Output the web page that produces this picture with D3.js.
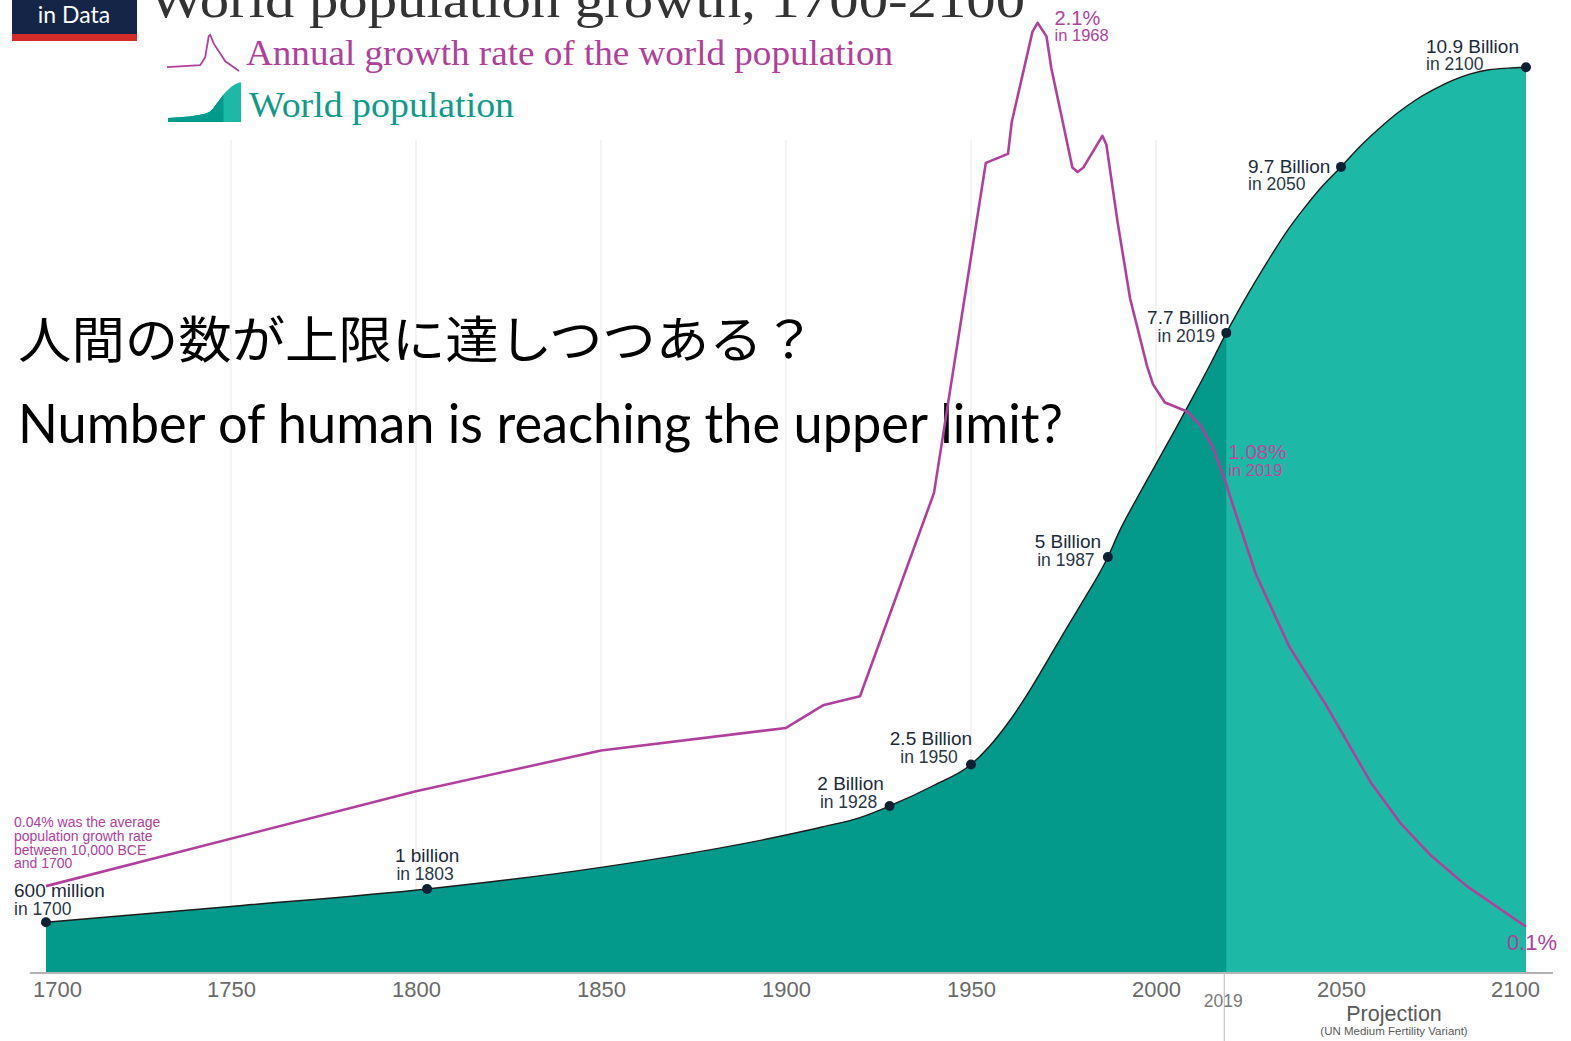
<!DOCTYPE html>
<html>
<head>
<meta charset="utf-8">
<script src="https://cdn.jsdelivr.net/npm/d3@7"></script>
<style>
  html, body { margin: 0; padding: 0; background: #fff; }
  svg { display: block; }
</style>
</head>
<body>
<svg id="chart" width="1571" height="1041"></svg>
<script>
// ---- World population (billions) ----
const popYears = [1700, 1750, 1803, 1850, 1900, 1910, 1920, 1928, 1940, 1950, 1955, 1960, 1965, 1970, 1975, 1980, 1987,
  1990, 1995, 2000, 2005, 2010, 2015, 2019, 2025, 2030, 2035, 2040, 2045, 2050, 2055, 2060, 2065, 2070, 2075, 2080,
  2085, 2090, 2095, 2100];
const popValues = [0.6, 0.79, 1.0, 1.26, 1.65, 1.75, 1.86, 2.0, 2.25, 2.5, 2.72, 3.0, 3.33, 3.7, 4.08, 4.45, 5.0,
  5.3, 5.72, 6.12, 6.52, 6.93, 7.35, 7.7, 8.18, 8.55, 8.9, 9.2, 9.47, 9.7, 9.94, 10.15, 10.34, 10.5, 10.63, 10.74,
  10.82, 10.87, 10.89, 10.9];

// ---- Annual growth rate of the world population (%) ----
const rateYears = [1700, 1800, 1850, 1900, 1910, 1920, 1940, 1954, 1960, 1961, 1966.6, 1968, 1970.4, 1971.7, 1977.4,
  1978.8, 1980.4, 1985.5, 1986.6, 1989.6, 1993, 1997.6, 1999.2, 2002.4, 2008.4, 2011.9, 2015.4, 2019, 2020.5, 2027,
  2036, 2046, 2058, 2066, 2074, 2084, 2100];
const rateValues = [0.19, 0.40, 0.49, 0.54, 0.59, 0.61, 1.06, 1.79, 1.81, 1.88, 2.08, 2.1, 2.07, 2.0, 1.78,
  1.77, 1.78, 1.85, 1.83, 1.66, 1.49, 1.34, 1.30, 1.26, 1.24, 1.21, 1.16, 1.08, 1.04, 0.88,
  0.72, 0.59, 0.42, 0.33, 0.26, 0.19, 0.1];

// ---- Milestones marked on the population curve ----
const milestoneYears = [1700, 1803, 1928, 1950, 1987, 2019, 2050, 2100];
const milestoneValues = [0.6, 1.0, 2.0, 2.5, 5.0, 7.7, 9.7, 10.9];
const milestoneLabels = ["600 million", "1 billion", "2 Billion", "2.5 Billion", "5 Billion", "7.7 Billion", "9.7 Billion", "10.9 Billion"];

// ---- Growth-rate callouts ----
const rateNoteYears = [1968, 2019, 2100];
const rateNoteValues = [2.1, 1.08, 0.1];

// ---- Axis ----
const tickYears = [1700, 1750, 1800, 1850, 1900, 1950, 2000, 2050, 2100];
const gridYears = [1750, 1800, 1850, 1900, 1950, 2000];
const projectionStart = 2019;

// ---- Texts ----
const titleText = "World population growth, 1700-2100";
const legendRate = "Annual growth rate of the world population";
const legendPop = "World population";
const headlineJa = "人間の数が上限に達しつつある？";
const headlineEn = "Number of human is reaching the upper limit?";
const ancientNote = ["0.04% was the average", "population growth rate", "between 10,000 BCE", "and 1700"];

// ---- Styling ----
const C = {
  darkTeal: "#039a8b", lightTeal: "#1eb9a6", magenta: "#b1409c", navy: "#0f2033",
  labelNavy: "#1b2b3c", grid: "#ececec", axis: "#9a9a9a", tick: "#6a6a6a"
};
const sans = "'Liberation Sans', Arial, Helvetica, sans-serif";
const serif = "'Liberation Serif', 'DejaVu Serif', Georgia, serif";

const svg = d3.select("#chart");

const x = d3.scaleLinear().domain([1700, 2100]).range([46, 1526]);
const yPop = d3.scaleLinear().domain([0, 11]).range([972, 972 - 11 * 83]);
const yRate = d3.scaleLinear().domain([0, 2.1]).range([972, 972 - 2.1 * 452]);

const pop = popYears.map((yr, i) => ({ year: yr, v: popValues[i] }));
const rate = rateYears.map((yr, i) => ({ year: yr, v: rateValues[i] }));

// vertical gridlines
svg.append("g").selectAll("line").data(gridYears).join("line")
  .attr("x1", d => x(d)).attr("x2", d => x(d))
  .attr("y1", 140).attr("y2", yPop(0))
  .attr("stroke", C.grid).attr("stroke-width", 1.2);

// population area: full span in the projection colour, history painted over it
const area = d3.area().x(d => x(d.year)).y0(yPop(0)).y1(d => yPop(d.v)).curve(d3.curveMonotoneX);
svg.append("path").datum(pop)
  .attr("d", area).attr("fill", C.lightTeal);
svg.append("path").datum(pop.filter(d => d.year <= projectionStart))
  .attr("d", area).attr("fill", C.darkTeal);

const popLine = d3.line().x(d => x(d.year)).y(d => yPop(d.v)).curve(d3.curveMonotoneX);
svg.append("path").datum(pop).attr("d", popLine)
  .attr("fill", "none").attr("stroke", "#1c1c1c").attr("stroke-width", 1.4);

// headline texts
svg.append("text").attr("x", 18).attr("y", 358)
  .attr("font-family", "'Noto Sans CJK JP', sans-serif").attr("font-size", 50)
  .attr("textLength", 798).attr("lengthAdjust", "spacingAndGlyphs")
  .attr("fill", "#000").text(headlineJa);
svg.append("text").attr("x", 18).attr("y", 443)
  .attr("font-family", "Lato, 'Open Sans', sans-serif").attr("font-size", 55)
  .attr("textLength", 1045).attr("lengthAdjust", "spacingAndGlyphs")
  .attr("fill", "#000").text(headlineEn);

// growth-rate line
const rateLine = d3.line().x(d => x(d.year)).y(d => yRate(d.v));
svg.append("path").datum(rate).attr("d", rateLine)
  .attr("fill", "none").attr("stroke", C.magenta).attr("stroke-width", 2.6)
  .attr("stroke-linejoin", "round");

// milestone dots and labels
const ms = milestoneYears.map((yr, i) => ({ year: yr, v: milestoneValues[i], label: milestoneLabels[i] }));
// label placement relative to each dot: [dx, dy of first line, dy of second line, anchor]
const msPlacement = [
  [-32, -25, -7, "start"], [0, -27, -9, "middle"], [-39, -16, 2, "middle"], [-40, -20, -2, "middle"],
  [-40, -9, 9, "middle"], [-38, -9, 9, "middle"], [-93, 6, 23, "start"], [-100, -14, 3, "start"]
];
const msG = svg.append("g");
ms.forEach((d, i) => {
  const [dx, dy1, dy2, anchor] = msPlacement[i];
  const cx = x(d.year), cy = yPop(d.v);
  msG.append("text").attr("x", cx + dx).attr("y", cy + dy1)
    .attr("text-anchor", anchor).attr("font-family", sans).attr("font-size", 19)
    .attr("fill", C.labelNavy).text(d.label);
  msG.append("text").attr("x", cx + dx + (anchor === "middle" ? -2 : 0)).attr("y", cy + dy2)
    .attr("text-anchor", anchor).attr("font-family", sans).attr("font-size", 17.5)
    .attr("fill", "#2a3846").text("in " + d.year);
});
msG.selectAll("circle").data(ms).join("circle")
  .attr("cx", d => x(d.year)).attr("cy", d => yPop(d.v)).attr("r", 5)
  .attr("fill", C.navy);

// growth-rate callouts
const rn = rateNoteYears.map((yr, i) => ({ year: yr, v: rateNoteValues[i] }));
const rnG = svg.append("g").attr("font-family", sans).attr("fill", C.magenta);
rnG.append("text").attr("x", x(rn[0].year) + 17).attr("y", yRate(rn[0].v) + 2)
  .attr("font-size", 20).text(rn[0].v + "%");
rnG.append("text").attr("x", x(rn[0].year) + 17).attr("y", yRate(rn[0].v) + 18)
  .attr("font-size", 16.5).text("in " + rn[0].year);
rnG.append("text").attr("x", x(rn[1].year) + 2).attr("y", yRate(rn[1].v) - 25)
  .attr("font-size", 20.5).attr("fill", "#c0479f").text(rn[1].v + "%");
rnG.append("text").attr("x", x(rn[1].year) + 2).attr("y", yRate(rn[1].v) - 8)
  .attr("font-size", 16.5).attr("fill", "#c0479f").text("in " + rn[1].year);
rnG.append("text").attr("x", x(rn[2].year) - 19).attr("y", yRate(rn[2].v) + 23)
  .attr("font-size", 22).text(rn[2].v + "%");
rnG.append("g").selectAll("text").data(ancientNote).join("text")
  .attr("x", 14).attr("y", (d, i) => 827 + i * 13.8)
  .attr("font-size", 14).text(d => d);

// x axis
svg.append("line").attr("x1", 30).attr("x2", 1553)
  .attr("y1", yPop(0) + 1).attr("y2", yPop(0) + 1)
  .attr("stroke", C.axis).attr("stroke-width", 1.5);
const axis = svg.append("g").attr("transform", `translate(0,${yPop(0)})`)
  .call(d3.axisBottom(x).tickValues(tickYears).tickFormat(d3.format("d")).tickSize(0).tickPadding(0));
axis.select(".domain").remove();
axis.selectAll("text")
  .attr("y", 25).attr("dy", 0)
  .attr("font-family", sans).attr("font-size", 22).attr("fill", C.tick)
  .attr("dx", d => d === 1700 ? 11 : d === 2100 ? -11 : 0);

// projection marker
svg.append("line").attr("x1", x(projectionStart) - 2).attr("x2", x(projectionStart) - 2)
  .attr("y1", yPop(0)).attr("y2", 1041).attr("stroke", "#c4c4c4").attr("stroke-width", 1.2);
svg.append("text").attr("x", x(projectionStart) - 3).attr("y", 1007)
  .attr("text-anchor", "middle").attr("font-family", sans).attr("font-size", 17.5)
  .attr("fill", "#7a7a7a").text(projectionStart);
svg.append("text").attr("x", 1394).attr("y", 1021)
  .attr("text-anchor", "middle").attr("font-family", sans).attr("font-size", 21.5)
  .attr("fill", "#5a5a5a").text("Projection");
svg.append("text").attr("x", 1394).attr("y", 1035)
  .attr("text-anchor", "middle").attr("font-family", sans).attr("font-size", 11.5)
  .attr("fill", "#5a5a5a").text("(UN Medium Fertility Variant)");

// header: logo, title, legend
svg.append("rect").attr("x", 12).attr("y", 0).attr("width", 125).attr("height", 34).attr("fill", "#142547");
svg.append("rect").attr("x", 12).attr("y", 34).attr("width", 125).attr("height", 7).attr("fill", "#d42b2b");
svg.append("text").attr("x", 74).attr("y", 23).attr("text-anchor", "middle")
  .attr("font-family", "Lato, sans-serif").attr("font-size", 23).attr("fill", "#fff").text("in Data");
svg.append("text").attr("x", 149).attr("y", 17)
  .attr("font-family", serif).attr("font-size", 50).attr("fill", "#333")
  .attr("textLength", 876).attr("lengthAdjust", "spacingAndGlyphs").text(titleText);

// legend glyphs drawn in a unit box
const rateGlyph = [[0, 0.11], [0.46, 0.16], [0.53, 0.38], [0.58, 0.97], [0.6, 1], [0.65, 0.76], [0.81, 0.27], [1, 0]];
const popGlyph = [[0, 0.1], [0.42, 0.17], [0.57, 0.25], [0.67, 0.46], [0.76, 0.67], [0.92, 0.92], [1, 0.97]];
const gx1 = d3.scaleLinear().domain([0, 1]).range([167, 239]);
const gy1 = d3.scaleLinear().domain([0, 1]).range([71, 35]);
svg.append("path").datum(rateGlyph)
  .attr("d", d3.line().x(d => gx1(d[0])).y(d => gy1(d[1])))
  .attr("fill", "none").attr("stroke", C.magenta).attr("stroke-width", 1.8);
const gx2 = d3.scaleLinear().domain([0, 1]).range([168, 241]);
const gy2 = d3.scaleLinear().domain([0, 1]).range([122, 81]);
const glyphArea = d3.area().x(d => gx2(d[0])).y0(gy2(0)).y1(d => gy2(d[1])).curve(d3.curveMonotoneX);
svg.append("path").datum(popGlyph).attr("d", glyphArea).attr("fill", C.lightTeal);
svg.append("path").datum(popGlyph.filter(d => d[0] <= 0.76)).attr("d", glyphArea).attr("fill", C.darkTeal);
svg.append("text").attr("x", 246).attr("y", 65)
  .attr("font-family", serif).attr("font-size", 35).attr("fill", C.magenta)
  .attr("textLength", 647).attr("lengthAdjust", "spacingAndGlyphs").text(legendRate);
svg.append("text").attr("x", 249).attr("y", 117)
  .attr("font-family", serif).attr("font-size", 35).attr("fill", "#0f9a8b")
  .attr("textLength", 265).attr("lengthAdjust", "spacingAndGlyphs").text(legendPop);
</script>
</body>
</html>
